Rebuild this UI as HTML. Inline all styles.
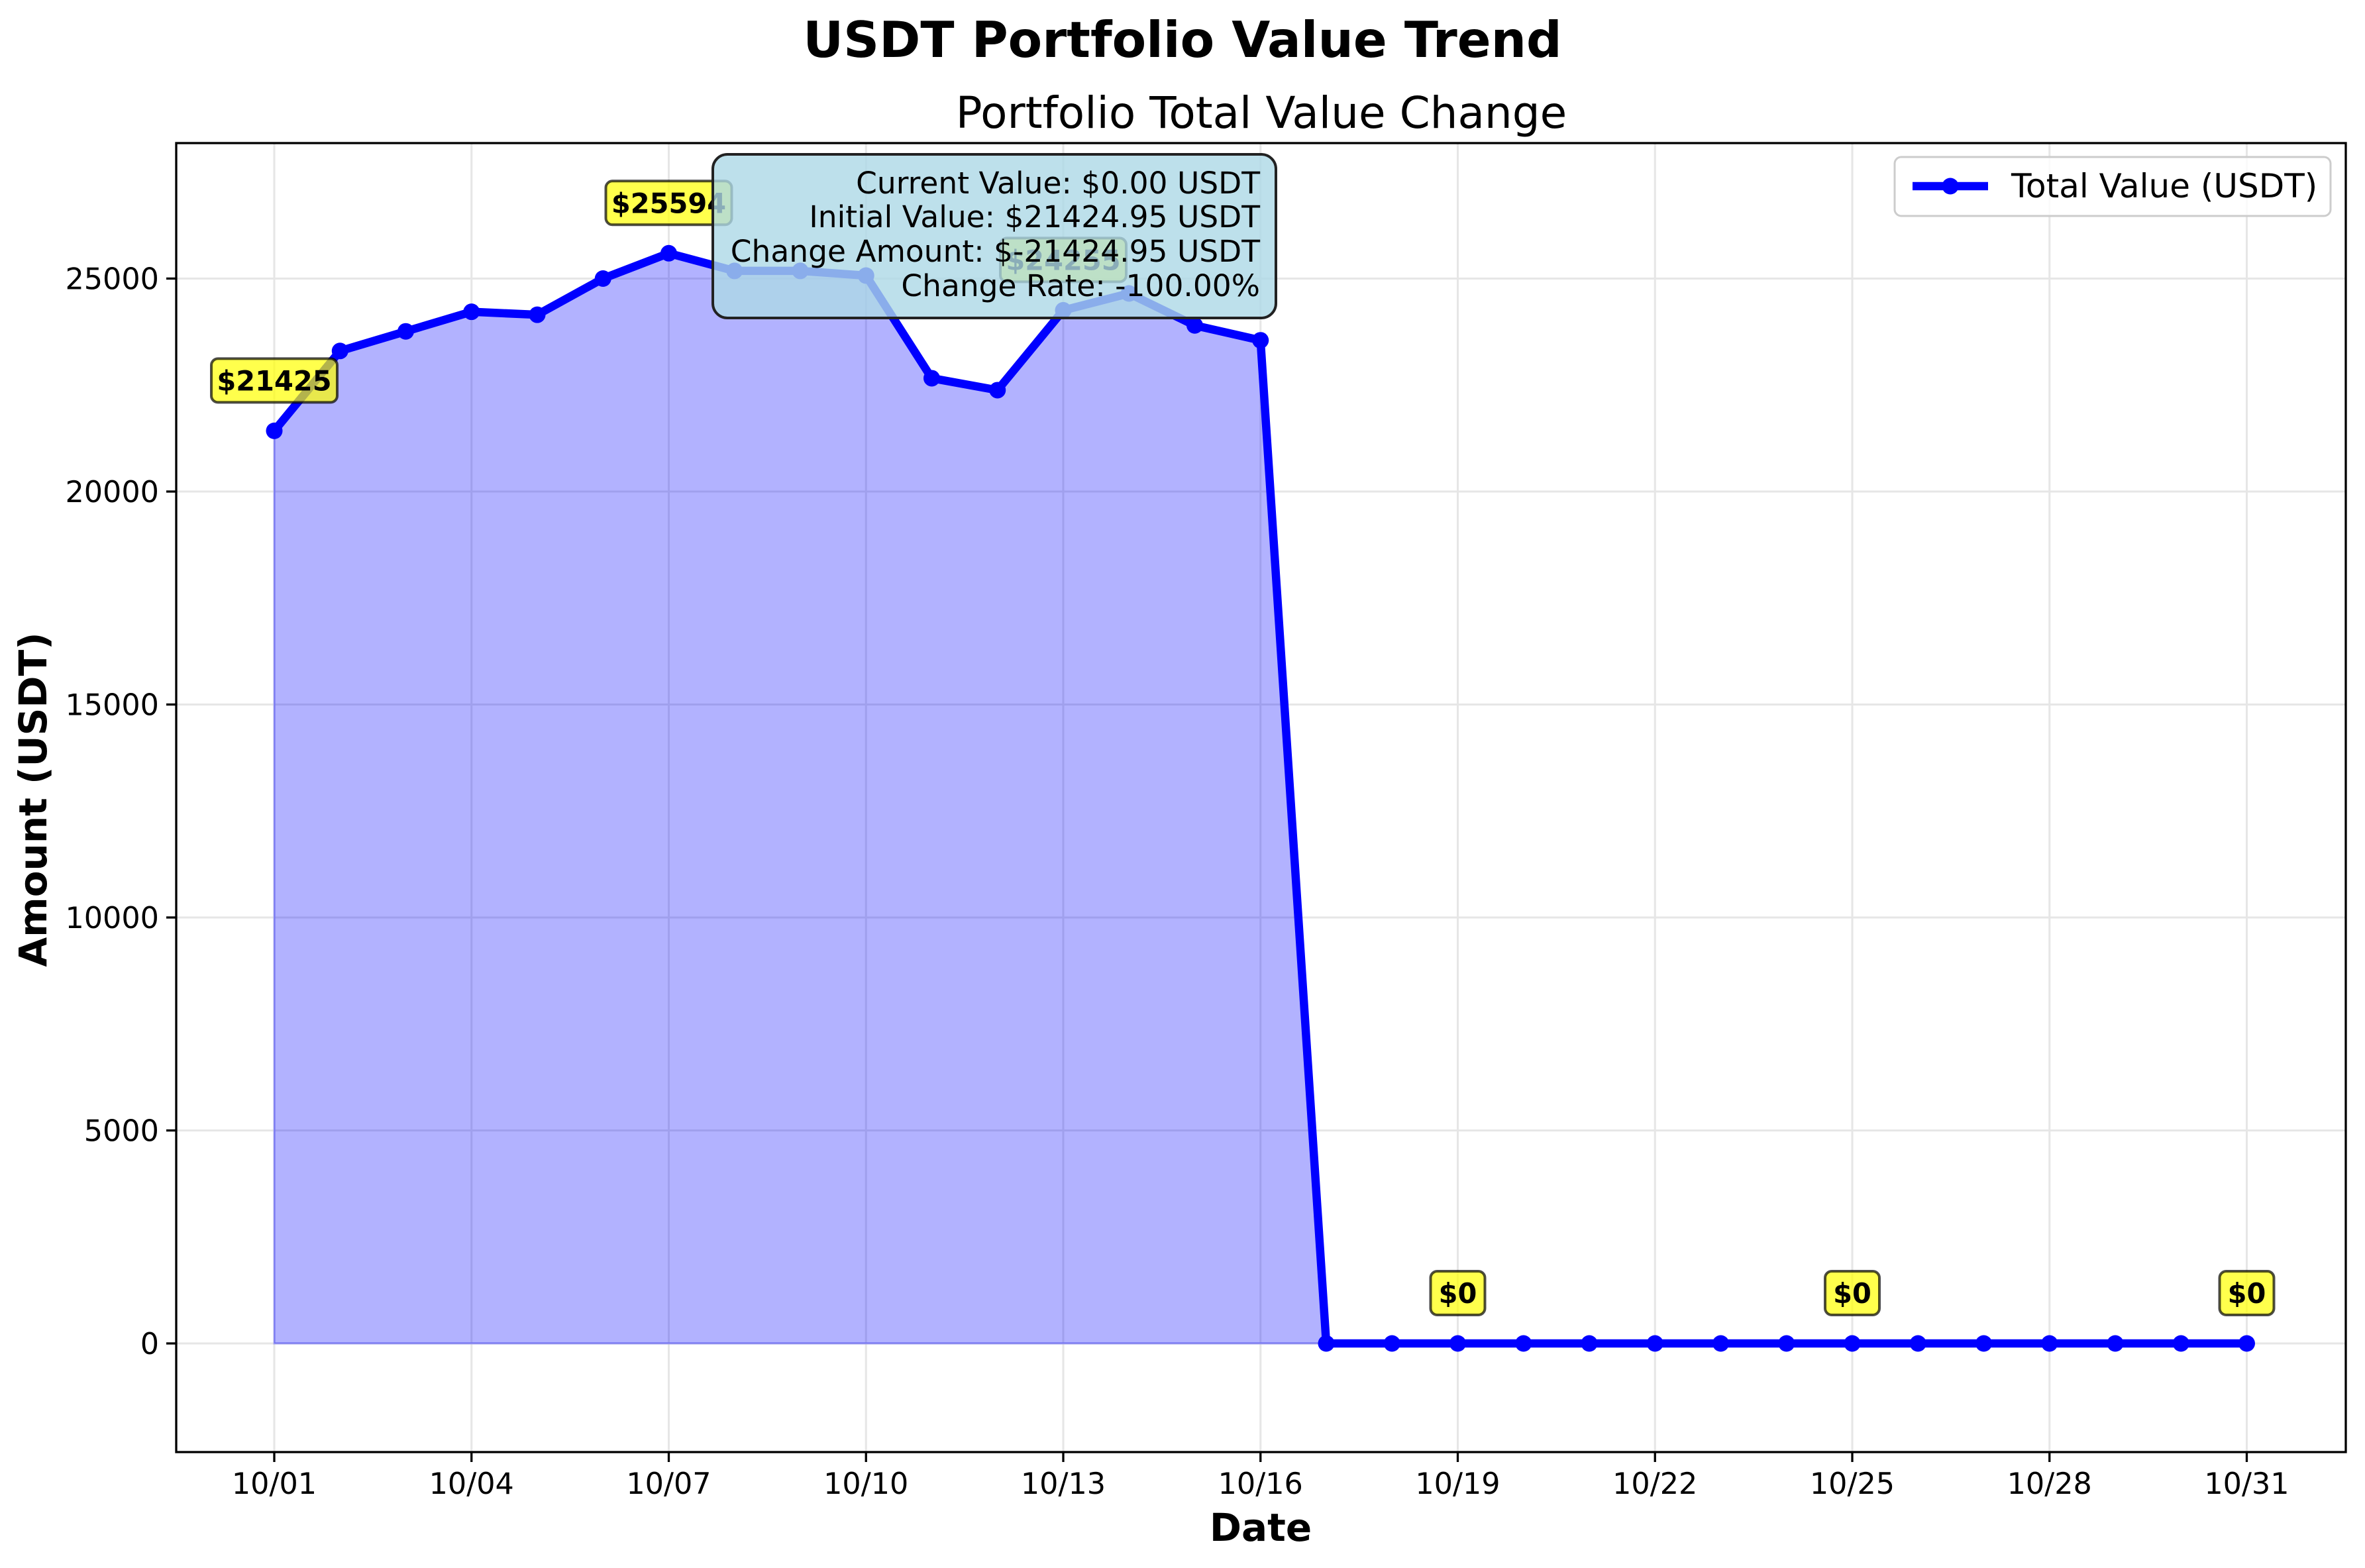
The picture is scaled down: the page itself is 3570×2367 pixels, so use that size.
<!DOCTYPE html>
<html><head><meta charset="utf-8"><style>
html,body{margin:0;padding:0;background:#fff;}
svg{display:block;font-family:"DejaVu Sans","Liberation Sans",sans-serif;}
</style></head><body>
<svg id="chart" width="3570" height="2367" viewBox="0 0 3570 2367" xmlns="http://www.w3.org/2000/svg">
<text x="1785" y="86" font-size="75" font-weight="bold" text-anchor="middle">USDT Portfolio Value Trend</text>
<text x="1904" y="193" font-size="66" text-anchor="middle">Portfolio Total Value Change</text>
<g id="grid"></g>
<g id="area"></g>
<g id="series"></g>
<g id="annots"></g>
<g id="axes"></g>
<g>
<rect x="1076" y="233" width="850" height="247" rx="22" fill="#add8e6" fill-opacity="0.8" stroke="#222" stroke-width="4"/>
<text x="1902" y="292" font-size="45.5" text-anchor="end">Current Value: $0.00 USDT</text>
<text x="1902" y="343" font-size="45.5" text-anchor="end">Initial Value: $21424.95 USDT</text>
<text x="1902" y="395" font-size="45.5" text-anchor="end">Change Amount: $-21424.95 USDT</text>
<text x="1902" y="447" font-size="45.5" text-anchor="end">Change Rate: -100.00%</text>
</g>
<g>
<rect x="2860" y="237" width="658" height="89" rx="10" fill="#fff" fill-opacity="0.8" stroke="#ccc" stroke-width="3"/>
<line x1="2887" y1="281" x2="3001" y2="281" stroke="#0000ff" stroke-width="12.5"/>
<circle cx="2944" cy="281" r="12.5" fill="#0000ff"/>
<text x="3036" y="298" font-size="50">Total Value (USDT)</text>
</g>
<text x="1903" y="2326" font-size="58" font-weight="bold" text-anchor="middle">Date</text>
<text x="0" y="0" font-size="58" font-weight="bold" text-anchor="middle" transform="translate(70,1207) rotate(-90)">Amount (USDT)</text>
</svg>
<script>
const days = ["10/01","10/02","10/03","10/04","10/05","10/06","10/07","10/08","10/09","10/10","10/11","10/12","10/13","10/14","10/15","10/16","10/17","10/18","10/19","10/20","10/21","10/22","10/23","10/24","10/25","10/26","10/27","10/28","10/29","10/30","10/31"];
const values = [21425,23300,23760,24220,24150,25000,25594,25180,25180,25070,22660,22380,24255,24650,23900,23550,0,0,0,0,0,0,0,0,0,0,0,0,0,0,0];
const yTicks = [0,5000,10000,15000,20000,25000];
const xTickIdx = [0,3,6,9,12,15,18,21,24,27,30];
const annotIdx = [0,6,12,18,24,30];

const NS="http://www.w3.org/2000/svg";
const L=266,R=3541,T=216,B=2192;
const x0=414,dx=99.25, yZero=2028, yPer=321.5/5000;
const X=i=>x0+i*dx;
const Y=v=>yZero-v*yPer;
function mk(tag,attrs,parent,text){const e=document.createElementNS(NS,tag);for(const k in attrs)e.setAttribute(k,attrs[k]);if(text!==undefined)e.textContent=text;parent.appendChild(e);return e;}
const grid=document.getElementById('grid'),area=document.getElementById('area'),series=document.getElementById('series'),annots=document.getElementById('annots'),axes=document.getElementById('axes');

yTicks.forEach(v=>{
  const g=mk('line',{x1:L,x2:R,y1:Y(v),y2:Y(v),stroke:'#e6e6e6','stroke-width':3},grid);
  
  
  mk('line',{x1:L-15,x2:L,y1:Y(v),y2:Y(v),stroke:'#000','stroke-width':3.3},axes);
  const t=mk('text',{x:L-26,y:Y(v)+16,'font-size':44.5,'text-anchor':'end'},axes,String(v));
  
  
});
xTickIdx.forEach(i=>{
  const g=mk('line',{x1:X(i),x2:X(i),y1:T,y2:B,stroke:'#e6e6e6','stroke-width':3},grid);
  
  
  mk('line',{x1:X(i),x2:X(i),y1:B,y2:B+15,stroke:'#000','stroke-width':3.3},axes);
  const t=mk('text',{x:X(i),y:2255,'font-size':44.5,'text-anchor':'middle'},axes,days[i]);
  
  
});
const frame=mk('rect',{x:L,y:T,width:R-L,height:B-T,fill:'none',stroke:'#000','stroke-width':3.3},axes);



let pts=values.map((v,i)=>X(i)+','+Y(v)).join(' ');
const poly=mk('polygon',{points:X(0)+','+Y(0)+' '+pts+' '+X(values.length-1)+','+Y(0),fill:'#0000ff','fill-opacity':0.3,stroke:'#0000ff','stroke-opacity':0.3,'stroke-width':3},area);


const line=mk('polyline',{points:pts,fill:'none',stroke:'#0000ff','stroke-width':12.5,'stroke-linejoin':'round'},series);


values.forEach((v,i)=>{
  const c=mk('circle',{cx:X(i),cy:Y(v),r:12.5,fill:'#0000ff'},series);
  
  
});
annotIdx.forEach(i=>{
  const label='$'+Math.round(values[i]);
  const w=label.length*27+28, h=66, cx=X(i), cy=Y(values[i])-76;
  const g=mk('g',{},annots);
  
  
  mk('rect',{x:cx-w/2,y:cy-h/2,width:w,height:h,rx:10,fill:'#ffff00','fill-opacity':0.7,stroke:'#000','stroke-opacity':0.7,'stroke-width':4},g);
  mk('text',{x:cx,y:cy+15,'font-size':41.5,'font-weight':'bold','text-anchor':'middle'},g,label);
});
</script>
</body></html>
